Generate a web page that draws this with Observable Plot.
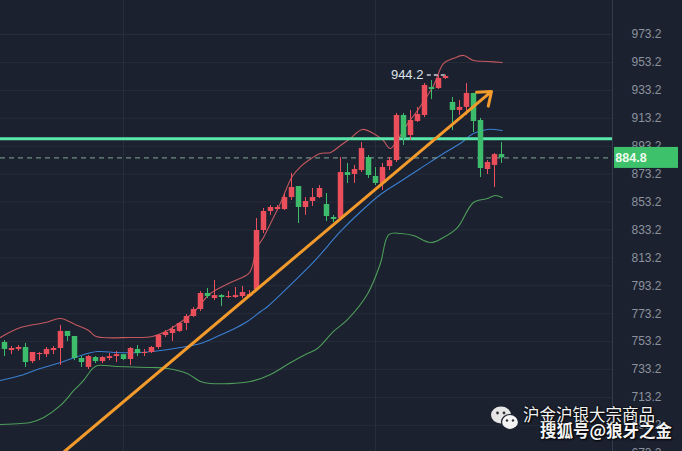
<!DOCTYPE html>
<html><head><meta charset="utf-8">
<script src="https://cdn.jsdelivr.net/npm/d3@7"></script>
<script src="https://cdn.jsdelivr.net/npm/@observablehq/plot@0.6"></script>
<style>
html,body{margin:0;padding:0;background:#1b212e;overflow:hidden}
#wrap{position:relative;width:682px;height:451px;overflow:hidden}
#wrap svg{display:block}
.wm{position:absolute;color:#f4f4f4;font-family:"Noto Sans CJK SC",sans-serif;white-space:nowrap;text-shadow:0 0 2px #000,1px 1px 2px #000}
</style></head><body><div id="wrap"></div>
<script>
// OHLC per candle (red = up, green = down)
const opens = [752.6,746.8,747.6,749.0,738.9,743.9,743.9,746.8,748.3,760.5,756.9,741.1,734.7,741.8,738.9,741.1,742.5,743.9,740.4,747.6,744.7,745.4,749.0,757.6,759.0,760.5,766.2,771.2,776.2,787.7,784.1,786.2,784.8,784.8,785.5,785.5,790.5,832.8,846.4,847.8,847.8,856.4,864.3,849.3,853.6,856.4,851.4,842.1,841.4,874.3,872.9,875.8,885.1,871.5,866.5,878.6,882.9,915.2,900.8,910.9,915.2,935.2,934.5,941.7,924.5,918.8,921.0,931.0,911.6,876.5,879.4,887.2];
const closes = [747.6,748.3,749.0,738.2,745.4,744.7,747.6,748.3,760.5,756.9,741.1,738.2,742.5,738.9,741.8,742.5,743.9,740.4,748.3,744.7,745.4,749.0,757.6,759.8,761.9,766.2,771.2,776.2,787.7,785.5,786.2,784.8,785.5,786.2,788.4,786.9,832.8,846.4,849.3,849.3,856.4,863.6,849.3,853.6,856.4,862.9,842.8,840.7,874.3,872.2,876.5,891.5,872.2,866.5,877.9,882.9,915.2,899.4,911.6,915.9,936.7,933.8,941.7,943.1,918.8,921.0,931.0,910.9,877.2,881.5,887.2,884.8];
const highs = [754.0,749.7,750.4,751.9,745.4,745.4,749.0,749.7,764.8,760.5,756.9,742.5,743.2,742.5,742.5,744.7,746.1,743.9,749.0,750.4,747.6,749.7,758.3,761.2,764.1,766.9,772.6,777.6,789.1,791.3,797.0,786.9,789.1,792.0,792.7,789.8,841.4,848.6,850.7,850.7,859.3,873.6,864.3,856.4,862.9,865.0,859.3,843.6,885.1,880.8,879.4,895.8,886.5,877.9,880.8,885.1,916.6,916.6,918.8,920.9,938.1,940.2,943.8,944.2,928.1,925.9,938.1,931.0,913.1,882.9,888.0,895.8];
const lows = [742.5,743.9,746.1,734.7,737.5,739.6,741.8,743.9,736.1,753.3,739.6,734.7,733.2,737.5,737.5,739.6,738.2,739.6,736.1,742.5,742.5,744.7,747.6,756.2,753.3,759.8,761.2,770.5,774.8,784.1,782.7,778.4,784.1,784.1,784.1,784.8,789.8,830.6,843.6,847.1,847.1,854.3,837.8,843.6,850.0,855.7,839.2,838.5,840.0,866.5,866.5,874.3,870.1,865.0,861.5,875.8,881.5,893.7,897.3,910.2,913.7,926.6,933.8,941.0,904.4,915.2,915.2,903.0,870.8,872.9,863.6,880.8];

// Bollinger bands: [candle index, value]
const upperBand = [[-0.6,756.2],[2.3,763.3],[5.9,766.9],[8,769.8],[10.1,765.5],[12,761.2],[13.1,756.9],[18,756.2],[21.1,756.9],[23.3,761.2],[25.1,766.9],[27,774.1],[29.4,787.7],[32.3,795.6],[35,802.7],[36,819.9],[37,827.8],[38,837.8],[39.4,852.1],[41.1,871.5],[42.3,878.6],[43.4,882.9],[45.1,888.0],[46.6,888.7],[48,893.7],[49.4,898.7],[51.1,905.2],[52.7,902.3],[54.1,897.3],[55.1,891.5],[56.1,897.3],[57.6,909.4],[59,918.8],[61.3,936.7],[62.7,952.4],[64.1,956.0],[65.6,958.2],[67,954.6],[69,953.9],[71.1,953.2]];
const middleBand = [[-0.6,725.4],[2.3,728.9],[5.1,734.0],[8,738.2],[10.9,743.3],[13.3,746.1],[16.1,745.4],[19.4,745.4],[22.3,746.8],[25.1,749.0],[28,751.9],[30.4,756.9],[32.6,761.9],[34.7,767.6],[36.6,774.8],[37.6,778.4],[40.9,794.1],[44.1,809.9],[48,832.1],[50.9,846.4],[53.7,858.6],[56.1,866.5],[59.4,877.2],[62.7,888.0],[65.1,895.1],[67,902.3],[69,905.2],[71.1,904.4]];
const lowerBand = [[-0.6,693.8],[2.3,694.6],[3.7,695.3],[5.6,698.9],[8,707.5],[9.9,718.2],[11.3,725.4],[12.6,734.0],[13.3,736.1],[16.1,735.4],[20.9,734.7],[23.3,734.0],[26.1,730.4],[28,724.6],[29.4,723.2],[35.1,724.6],[38,729.7],[40.9,738.3],[43,744.0],[44.7,748.3],[47,760.5],[49,769.0],[51.9,787.7],[53.7,809.2],[54.9,829.9],[56.6,830.7],[58.4,829.2],[60.9,824.2],[62.7,827.8],[64.7,834.9],[67,852.9],[69,855.7],[70.1,857.9],[71.1,856.4]];

const tickValues = [973.2,953.2,933.2,913.2,893.2,873.2,853.2,833.2,813.2,793.2,773.2,753.2,733.2,713.2,693.2,673.2];
const gridCandles = [17, 53];
const levelLine = [898.6];
const lastClose = 884.8;
const peak = {k: 63, v: 944.2, labelK: 59.85, dashFrom: 60.4};
const trend = [{k1: 8.57, v1: 674.5, k2: 69.57, v2: 932.4}];

const RED = "#ec4f5c", GREEN = "#3dbd6c";
const candles = opens.map((o, i) => ({i, open: o, close: closes[i], high: highs[i], low: lows[i], up: closes[i] >= o}));
const pts = a => a.map(([k, v]) => ({k, v}));

const chart = Plot.plot({
  width: 682, height: 451,
  marginTop: 0, marginBottom: 0, marginLeft: 0, marginRight: 70,
  style: {background: "#1b212e", color: "#8b929e", fontFamily: "'Liberation Sans', Arial, sans-serif", fontSize: "12px"},
  x: {domain: [-4/7, 608/7], axis: null},
  y: {domain: [674.5, 997.56], axis: null},
  marks: [
    Plot.gridY(tickValues, {stroke: "#262d3b", strokeOpacity: 1}),
    Plot.ruleX(gridCandles, {stroke: "#262d3b"}),
    Plot.frame({anchor: "right", stroke: "#333b4b"}),
    Plot.axisY(tickValues, {anchor: "right", tickSize: 0, tickPadding: 19, tickFormat: d => d.toFixed(1)}),
    Plot.line(pts(upperBand), {x: "k", y: "v", stroke: "#c35860", strokeWidth: 1.1, curve: "catmull-rom"}),
    Plot.line(pts(middleBand), {x: "k", y: "v", stroke: "#3b7fd1", strokeWidth: 1.1, curve: "catmull-rom"}),
    Plot.line(pts(lowerBand), {x: "k", y: "v", stroke: "#4e9d5a", strokeWidth: 1.1, curve: "catmull-rom"}),
    Plot.ruleY(levelLine, {stroke: "#58e6aa", strokeWidth: 3}),
    Plot.ruleY([lastClose], {stroke: "#86a898", strokeDasharray: "5,4", strokeWidth: 1}),
    Plot.ruleX(candles, {x: "i", y1: "low", y2: "high", stroke: d => d.up ? RED : GREEN, strokeWidth: 1}),
    Plot.ruleX(candles, {x: "i", y1: "open", y2: "close", stroke: d => d.up ? RED : GREEN, strokeWidth: 5.5}),
    Plot.arrow(trend, {x1: "k1", y1: "v1", x2: "k2", y2: "v2", stroke: "#f39a2c", strokeWidth: 3, headLength: 7.5, headAngle: 75}),
    Plot.text([peak], {x: "labelK", y: "v", text: d => d.v.toFixed(1), textAnchor: "end", fill: "#dde1e8", fontSize: 13}),
    Plot.ruleY([peak], {y: "v", x1: "dashFrom", x2: "k", stroke: "#c9ced6", strokeDasharray: "4,3", strokeWidth: 1.3})
  ]
});

const svg = d3.select(chart);
const yy = chart.scale("y").apply(lastClose);
svg.append("rect").attr("x", 614).attr("y", yy - 10.5).attr("width", 64).attr("height", 21).attr("fill", "#3dc16b");
svg.append("text").attr("x", 631).attr("y", yy).attr("dy", "0.35em").attr("fill", "#eefcef")
  .attr("font-weight", "bold").attr("font-size", 12.5).attr("font-family", "'Liberation Sans', Arial, sans-serif")
  .text(lastClose.toFixed(1));

const wrap = document.getElementById("wrap");
wrap.appendChild(chart);

// watermark
const icon = document.createElementNS("http://www.w3.org/2000/svg", "svg");
icon.setAttribute("width", 30); icon.setAttribute("height", 26);
icon.style.cssText = "position:absolute;left:490px;top:405px";
icon.innerHTML = '<ellipse cx="11" cy="10" rx="10" ry="8.5" fill="#e6e6e6"/><circle cx="7.5" cy="8" r="1.4" fill="#333"/><circle cx="14" cy="8" r="1.4" fill="#333"/>' +
  '<ellipse cx="20" cy="17" rx="8.5" ry="7.5" fill="#f4f4f4" stroke="#1b212e" stroke-width="1.2"/><circle cx="17" cy="15.5" r="1.2" fill="#333"/><circle cx="23" cy="15.5" r="1.2" fill="#333"/>';
wrap.appendChild(icon);
const w1 = document.createElement("div");
w1.className = "wm"; w1.style.cssText = "left:523px;top:404px;font-size:16.5px;line-height:20px";
w1.textContent = "沪金沪银大宗商品";
wrap.appendChild(w1);
const w2 = document.createElement("div");
w2.className = "wm"; w2.style.cssText = "left:540px;top:420px;font-size:16.5px;line-height:20px;font-weight:bold";
w2.textContent = "搜狐号@狼牙之金";
wrap.appendChild(w2);
</script></body></html>
